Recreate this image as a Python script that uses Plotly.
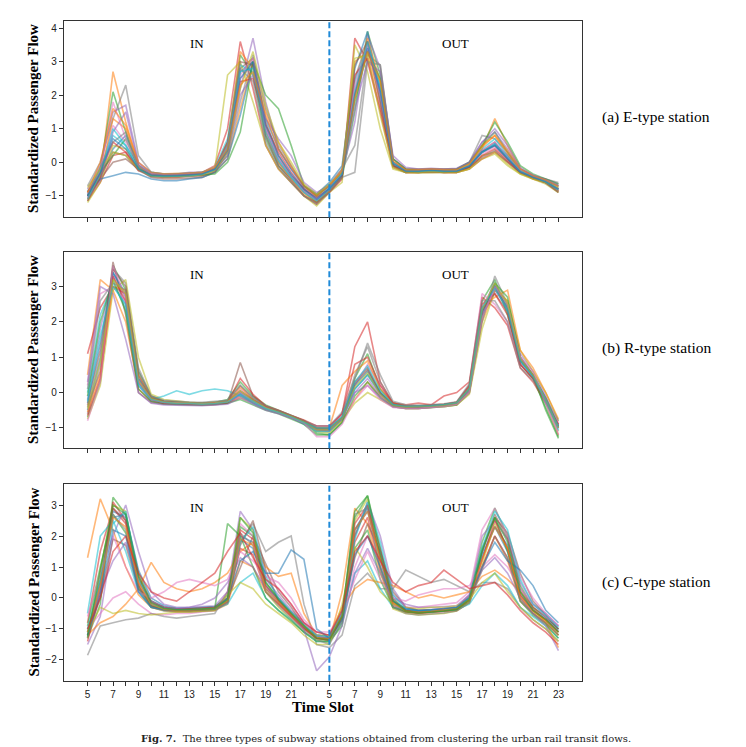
import plotly.graph_objects as go

# ---------------- data ----------------
SLOTS = list(range(38))  # 19 IN slots (5..23) followed by 19 OUT slots (5..23)
TICK_TEXT = ["5", "", "7", "", "9", "", "11", "", "13", "", "15", "", "17", "", "19", "", "21", "", "",
             "5", "", "7", "", "9", "", "11", "", "13", "", "15", "", "17", "", "19", "", "21", "", "23"]
PANEL_LABELS = ["(a) E-type station", "(b) R-type station", "(c) C-type station"]

E_IN = [
    [-1.0,-0.4,0.4,0.8,-0.1,-0.35,-0.4,-0.4,-0.38,-0.35,-0.2,0.5,2.7,3.0,1.0,0.1,-0.4,-0.8,-1.1],
    [-1.1,-0.5,2.7,1.2,-0.1,-0.4,-0.45,-0.45,-0.4,-0.4,-0.3,0.1,1.6,3.0,1.5,0.6,-0.1,-0.75,-1.0],
    [-0.9,-0.2,2.1,0.9,-0.2,-0.4,-0.4,-0.38,-0.35,-0.33,-0.2,0.6,3.2,2.6,0.7,-0.1,-0.5,-0.9,-1.2],
    [-1.15,-0.6,0.2,0.3,-0.25,-0.35,-0.38,-0.36,-0.33,-0.3,-0.1,1.0,3.6,2.2,0.5,-0.2,-0.6,-1.0,-1.25],
    [-0.8,-0.1,1.5,1.7,0.0,-0.3,-0.35,-0.35,-0.3,-0.3,-0.25,0.2,2.2,3.7,1.8,0.4,-0.2,-0.75,-1.0],
    [-1.0,-0.5,0.0,0.1,-0.2,-0.45,-0.5,-0.5,-0.48,-0.45,-0.3,0.3,2.8,3.1,1.2,0.2,-0.4,-0.85,-1.15],
    [-1.05,-0.3,1.1,0.6,-0.15,-0.35,-0.38,-0.38,-0.36,-0.35,-0.22,0.4,2.5,2.9,1.0,0.0,-0.5,-0.9,-1.1],
    [-0.7,0.0,1.3,2.3,0.2,-0.3,-0.35,-0.35,-0.32,-0.3,-0.2,0.2,1.8,3.2,1.6,0.5,-0.1,-0.7,-0.95],
    [-1.2,-0.6,0.5,0.4,-0.2,-0.35,-0.4,-0.4,-0.38,-0.35,-0.2,2.6,3.0,1.8,0.5,-0.2,-0.6,-1.0,-1.3],
    [-0.95,-0.2,0.8,0.5,-0.1,-0.3,-0.35,-0.35,-0.33,-0.3,-0.15,0.7,2.9,2.7,0.8,0.0,-0.45,-0.85,-1.05],
    [-0.85,-0.5,-0.4,-0.3,-0.35,-0.5,-0.55,-0.55,-0.5,-0.45,-0.3,0.1,1.4,3.0,1.3,0.4,-0.2,-0.7,-0.95],
    [-1.1,-0.4,1.3,1.0,-0.1,-0.38,-0.4,-0.4,-0.37,-0.34,-0.18,0.5,3.3,2.8,0.9,0.0,-0.5,-0.95,-1.2],
    [-1.0,-0.3,0.2,0.7,-0.15,-0.4,-0.42,-0.42,-0.4,-0.38,-0.35,0.0,0.9,3.0,2.0,1.6,0.5,-0.7,-1.0],
    [-0.9,-0.35,0.6,0.3,-0.2,-0.38,-0.4,-0.4,-0.38,-0.36,-0.2,0.6,2.4,2.5,1.1,0.3,-0.3,-0.8,-1.05],
    [-1.05,-0.55,0.9,1.5,-0.05,-0.32,-0.36,-0.36,-0.34,-0.32,-0.18,0.3,2.0,2.6,1.3,0.7,0.2,-0.6,-0.9],
    [-1.15,-0.45,0.3,0.2,-0.25,-0.42,-0.45,-0.45,-0.42,-0.4,-0.25,0.4,3.0,2.9,0.8,-0.1,-0.55,-1.0,-1.2],
    [-0.95,-0.25,1.8,0.7,-0.1,-0.35,-0.38,-0.38,-0.35,-0.33,-0.2,0.5,2.6,3.1,1.0,0.1,-0.4,-0.85,-1.1],
    [-1.0,-0.15,0.6,0.9,-0.1,-0.36,-0.38,-0.38,-0.36,-0.33,-0.2,0.55,2.8,2.4,0.6,-0.15,-0.6,-1.0,-1.25],
    [-0.75,-0.2,0.3,0.2,-0.2,-0.4,-0.42,-0.42,-0.4,-0.37,-0.25,0.3,2.2,3.3,1.7,0.6,0.0,-0.65,-0.95],
    [-1.1,-0.35,1.0,0.5,-0.2,-0.4,-0.42,-0.42,-0.4,-0.36,-0.22,0.45,2.7,2.8,0.9,0.05,-0.45,-0.9,-1.15],
    [-1.0,-0.3,0.7,0.4,-0.2,-0.38,-0.4,-0.4,-0.37,-0.34,-0.2,0.35,2.5,3.0,1.1,0.2,-0.35,-0.8,-1.1],
    [-0.9,0.0,1.6,1.1,0.0,-0.3,-0.34,-0.34,-0.32,-0.3,-0.15,0.4,2.3,2.7,1.4,0.4,-0.15,-0.7,-1.0],
]
E_OUT = [
    [-0.8,-0.4,2.0,3.5,2.2,0.0,-0.25,-0.28,-0.25,-0.28,-0.28,-0.1,0.3,0.5,0.1,-0.3,-0.45,-0.6,-0.8],
    [-0.7,-0.2,3.0,3.3,1.8,-0.1,-0.3,-0.3,-0.28,-0.3,-0.3,-0.15,0.4,1.3,0.5,-0.2,-0.4,-0.55,-0.7],
    [-0.85,-0.45,1.5,3.9,2.6,0.0,-0.22,-0.25,-0.2,-0.25,-0.22,-0.05,0.5,0.9,0.3,-0.25,-0.42,-0.55,-0.8],
    [-0.9,-0.5,3.7,3.0,1.5,-0.15,-0.3,-0.3,-0.25,-0.3,-0.3,-0.2,0.1,0.3,0.0,-0.3,-0.5,-0.6,-0.85],
    [-0.7,-0.3,1.2,3.8,2.8,0.1,-0.2,-0.2,-0.2,-0.22,-0.2,0.0,0.6,1.0,0.5,-0.15,-0.4,-0.5,-0.65],
    [-0.8,-0.35,2.5,3.6,2.0,-0.05,-0.28,-0.3,-0.28,-0.3,-0.28,-0.1,0.35,0.6,0.1,-0.3,-0.45,-0.6,-0.9],
    [-0.75,-0.35,2.2,3.4,2.1,-0.05,-0.25,-0.25,-0.22,-0.25,-0.25,-0.1,0.25,0.45,0.1,-0.28,-0.45,-0.58,-0.78],
    [-0.65,-0.2,0.5,3.2,2.9,0.1,-0.2,-0.22,-0.2,-0.2,-0.2,0.0,0.8,0.7,0.3,-0.2,-0.4,-0.5,-0.6],
    [-0.9,-0.6,3.5,2.7,1.0,-0.2,-0.3,-0.32,-0.3,-0.3,-0.3,-0.2,0.2,0.3,-0.05,-0.35,-0.5,-0.65,-0.9],
    [-0.75,-0.3,2.4,3.5,2.3,0.0,-0.25,-0.25,-0.23,-0.25,-0.25,-0.1,0.4,0.7,0.2,-0.25,-0.42,-0.55,-0.75],
    [-0.6,-0.1,2.8,3.9,1.9,-0.1,-0.3,-0.28,-0.25,-0.28,-0.28,-0.12,0.3,0.55,0.2,-0.28,-0.45,-0.55,-0.7],
    [-0.85,-0.4,2.0,3.7,2.4,0.0,-0.25,-0.27,-0.24,-0.27,-0.26,-0.08,0.45,0.8,0.25,-0.28,-0.45,-0.6,-0.85],
    [-0.7,-0.3,1.8,3.3,2.5,0.1,-0.2,-0.22,-0.2,-0.22,-0.2,0.0,0.5,1.2,0.6,-0.1,-0.35,-0.5,-0.65],
    [-0.8,-0.4,2.6,3.1,1.6,-0.1,-0.28,-0.28,-0.25,-0.28,-0.28,-0.15,0.2,0.4,0.05,-0.3,-0.45,-0.6,-0.8],
    [-0.7,-0.25,1.6,3.0,2.7,0.2,-0.15,-0.2,-0.18,-0.2,-0.18,0.0,0.6,0.9,0.4,-0.2,-0.38,-0.52,-0.7],
    [-0.9,-0.45,2.9,3.6,1.7,-0.1,-0.3,-0.3,-0.28,-0.3,-0.3,-0.15,0.15,0.35,0.0,-0.32,-0.48,-0.62,-0.9],
    [-0.8,-0.35,2.3,3.5,2.0,0.0,-0.25,-0.25,-0.22,-0.25,-0.25,-0.1,0.35,0.6,0.15,-0.27,-0.43,-0.57,-0.8],
    [-0.85,-0.45,-0.3,3.0,2.9,0.0,-0.25,-0.28,-0.25,-0.27,-0.27,-0.1,0.3,0.5,0.1,-0.3,-0.45,-0.6,-0.85],
    [-0.65,-0.3,3.1,3.2,1.4,-0.15,-0.3,-0.3,-0.27,-0.3,-0.3,-0.2,0.1,0.25,-0.1,-0.35,-0.5,-0.6,-0.75],
    [-0.8,-0.35,2.1,3.6,2.2,-0.02,-0.26,-0.27,-0.24,-0.27,-0.26,-0.1,0.3,0.55,0.15,-0.28,-0.44,-0.58,-0.82],
    [-0.78,-0.38,2.0,3.4,2.1,-0.05,-0.26,-0.26,-0.23,-0.26,-0.26,-0.12,0.32,0.5,0.12,-0.28,-0.44,-0.58,-0.8],
    [-0.7,-0.25,1.9,3.3,2.4,0.05,-0.22,-0.22,-0.2,-0.22,-0.22,-0.05,0.5,0.8,0.35,-0.2,-0.4,-0.53,-0.72],
]

R_IN = [
    [-0.5,1.0,3.4,2.7,0.4,-0.15,-0.25,-0.28,-0.3,-0.32,-0.3,-0.25,-0.05,-0.25,-0.42,-0.55,-0.68,-0.82,-1.0],
    [0.5,3.2,2.9,2.0,0.1,-0.25,-0.3,-0.32,-0.33,-0.35,-0.33,-0.3,-0.15,-0.3,-0.45,-0.58,-0.7,-0.85,-1.05],
    [-0.7,0.3,3.6,2.9,0.6,-0.1,-0.25,-0.28,-0.3,-0.3,-0.28,-0.2,0.3,-0.1,-0.35,-0.5,-0.65,-0.8,-1.15],
    [1.1,2.4,3.0,2.8,0.3,-0.2,-0.3,-0.3,-0.32,-0.33,-0.3,-0.28,-0.1,-0.28,-0.45,-0.55,-0.7,-0.85,-1.0],
    [-0.2,1.8,3.3,2.5,0.2,-0.25,-0.3,-0.32,-0.33,-0.34,-0.32,-0.3,-0.05,-0.3,-0.48,-0.58,-0.72,-0.88,-1.1],
    [-0.4,0.6,3.7,2.2,0.0,-0.28,-0.33,-0.35,-0.35,-0.36,-0.35,-0.3,0.85,-0.1,-0.4,-0.55,-0.68,-0.85,-1.05],
    [0.2,2.8,3.0,2.6,0.4,-0.2,-0.28,-0.3,-0.3,-0.32,-0.3,-0.25,0.1,-0.2,-0.42,-0.55,-0.68,-0.82,-0.95],
    [-0.6,0.8,3.5,3.1,0.7,-0.1,-0.25,-0.27,-0.28,-0.3,-0.28,-0.22,0.2,-0.15,-0.38,-0.52,-0.66,-0.8,-1.0],
    [-0.75,0.2,2.9,3.2,1.0,-0.05,-0.2,-0.25,-0.28,-0.3,-0.28,-0.25,0.0,-0.25,-0.45,-0.55,-0.7,-0.85,-1.1],
    [0.0,2.2,3.1,2.4,0.2,-0.2,-0.1,0.05,-0.05,0.05,0.1,0.05,-0.1,-0.3,-0.45,-0.58,-0.7,-0.9,-1.1],
    [-0.3,1.4,3.4,2.8,0.4,-0.18,-0.27,-0.3,-0.3,-0.32,-0.3,-0.26,0.0,-0.22,-0.43,-0.55,-0.68,-0.83,-1.05],
    [-0.55,0.5,3.0,2.9,0.5,-0.15,-0.26,-0.3,-0.31,-0.33,-0.3,-0.27,0.15,-0.2,-0.4,-0.52,-0.66,-0.8,-1.0],
    [-0.1,2.0,3.2,2.3,0.1,-0.25,-0.32,-0.33,-0.34,-0.35,-0.33,-0.3,-0.2,-0.35,-0.5,-0.6,-0.75,-0.9,-1.2],
    [-0.65,0.4,3.3,2.6,0.3,-0.2,-0.3,-0.32,-0.32,-0.33,-0.31,-0.28,0.4,-0.05,-0.38,-0.5,-0.65,-0.78,-0.95],
    [0.3,3.0,2.8,1.5,0.0,-0.3,-0.35,-0.36,-0.36,-0.37,-0.35,-0.33,-0.15,-0.33,-0.5,-0.6,-0.72,-0.88,-1.05],
    [-0.35,1.2,3.5,3.0,0.5,-0.15,-0.25,-0.28,-0.3,-0.31,-0.3,-0.25,0.05,-0.2,-0.42,-0.54,-0.67,-0.82,-1.02],
    [-0.8,0.3,3.6,2.7,0.3,-0.2,-0.28,-0.3,-0.31,-0.32,-0.3,-0.27,0.0,-0.25,-0.44,-0.56,-0.7,-0.86,-1.25],
    [0.1,2.6,3.1,2.9,0.6,-0.1,-0.22,-0.25,-0.27,-0.28,-0.26,-0.22,0.2,-0.15,-0.38,-0.5,-0.64,-0.8,-0.95],
    [-0.45,0.9,3.2,2.8,0.35,-0.18,-0.27,-0.3,-0.3,-0.32,-0.3,-0.26,0.05,-0.22,-0.43,-0.55,-0.68,-0.84,-1.05],
    [-0.25,1.6,3.0,2.5,0.25,-0.2,-0.28,-0.31,-0.31,-0.33,-0.31,-0.27,-0.05,-0.25,-0.45,-0.56,-0.69,-0.85,-1.0],
]
R_OUT = [
    [-1.05,-0.75,0.1,0.5,-0.05,-0.35,-0.42,-0.42,-0.4,-0.36,-0.3,0.1,2.3,3.0,2.4,0.9,0.5,-0.15,-0.95],
    [-1.1,-0.8,-0.2,0.3,-0.1,-0.38,-0.45,-0.45,-0.42,-0.4,-0.35,0.0,2.0,2.9,2.6,1.0,0.45,-0.3,-1.2],
    [-1.2,-0.85,0.4,1.1,0.1,-0.3,-0.38,-0.4,-0.38,-0.35,-0.28,0.2,2.6,3.2,2.2,0.8,0.4,-0.4,-1.25],
    [-1.0,-0.6,1.3,2.0,0.3,-0.3,-0.35,-0.3,-0.35,-0.1,0.0,0.3,2.7,2.4,1.9,0.7,0.3,-0.3,-0.9],
    [-1.1,-0.7,0.0,0.4,-0.1,-0.38,-0.42,-0.43,-0.4,-0.38,-0.32,0.05,2.4,3.1,2.5,1.1,0.6,-0.1,-1.0],
    [-1.05,-0.75,0.3,0.7,0.0,-0.35,-0.4,-0.4,-0.38,-0.35,-0.3,0.15,2.2,2.8,2.3,0.8,0.4,-0.25,-1.0],
    [-0.95,-0.6,0.2,0.8,0.2,-0.3,-0.4,-0.4,-0.38,-0.35,-0.28,0.2,2.8,2.5,2.0,0.8,0.45,-0.2,-0.85],
    [-1.0,-0.7,0.5,1.3,0.3,-0.3,-0.38,-0.4,-0.38,-0.35,-0.3,0.05,2.0,3.3,2.5,1.0,0.5,-0.2,-1.1],
    [-1.15,-0.8,-0.3,0.0,-0.2,-0.4,-0.45,-0.45,-0.42,-0.4,-0.35,-0.05,1.8,2.9,2.6,1.2,0.6,0.0,-0.8],
    [-1.1,-0.75,0.1,0.5,0.0,-0.35,-0.4,-0.4,-0.38,-0.35,-0.3,0.1,2.3,3.0,2.3,0.9,0.45,-0.3,-1.05],
    [-1.05,-0.72,0.2,0.6,-0.02,-0.35,-0.41,-0.41,-0.39,-0.36,-0.3,0.1,2.25,3.05,2.45,0.95,0.5,-0.18,-0.98],
    [-1.0,0.2,0.6,0.9,0.1,-0.3,-0.38,-0.38,-0.36,-0.33,-0.28,0.15,2.4,2.7,2.9,1.2,0.7,0.0,-0.75],
    [-1.2,-0.85,-0.1,0.3,-0.15,-0.4,-0.45,-0.45,-0.43,-0.4,-0.35,0.0,2.1,3.1,2.7,1.0,0.5,-0.5,-1.3],
    [-0.95,-0.6,0.8,1.0,0.2,-0.3,-0.38,-0.38,-0.36,-0.33,-0.28,0.2,2.5,2.8,2.2,0.8,0.4,-0.25,-0.9],
    [-1.05,-0.75,0.0,0.2,-0.15,-0.4,-0.45,-0.45,-0.42,-0.38,-0.32,0.05,2.2,2.9,2.4,1.0,0.5,-0.2,-1.0],
    [-1.02,-0.7,0.25,0.65,0.0,-0.34,-0.4,-0.4,-0.38,-0.35,-0.3,0.1,2.3,3.0,2.35,0.9,0.48,-0.2,-0.95],
    [-1.25,-0.9,-0.2,0.2,-0.2,-0.42,-0.45,-0.45,-0.42,-0.4,-0.34,0.0,2.1,3.0,2.5,1.0,0.6,-0.3,-1.2],
    [-0.95,-0.55,0.4,1.4,0.5,-0.25,-0.35,-0.36,-0.34,-0.32,-0.26,0.25,2.6,2.6,2.0,0.7,0.35,-0.15,-0.8],
    [-1.05,-0.72,0.15,0.55,-0.05,-0.36,-0.41,-0.41,-0.39,-0.36,-0.3,0.1,2.35,3.1,2.5,0.95,0.5,-0.2,-1.0],
    [-1.0,-0.68,0.3,0.75,0.05,-0.33,-0.39,-0.39,-0.37,-0.34,-0.29,0.12,2.4,2.95,2.35,0.9,0.45,-0.22,-0.95],
]

C_IN = [
    [-1.1,0.5,2.8,2.6,0.6,-0.2,-0.35,-0.4,-0.4,-0.38,-0.35,-0.1,1.9,1.6,0.3,-0.15,-0.55,-0.95,-1.25],
    [1.3,3.2,2.2,1.0,0.1,-0.3,-0.4,-0.45,-0.45,-0.42,-0.4,-0.2,1.2,1.0,0.2,-0.2,-0.6,-1.0,-1.3],
    [-1.3,-0.2,3.25,2.7,0.8,-0.1,-0.3,-0.35,-0.35,-0.33,-0.3,0.1,2.3,2.0,0.5,0.0,-0.45,-0.85,-1.2],
    [-0.8,1.5,2.9,2.4,0.4,-0.25,-0.38,-0.42,-0.42,-0.4,-0.38,-0.15,1.6,1.4,0.2,-0.2,-0.6,-1.0,-1.3],
    [-1.5,-0.6,2.0,3.0,1.5,0.2,-0.2,-0.3,-0.3,-0.28,-0.25,0.2,2.8,2.2,0.6,0.1,-0.4,-0.8,-1.1],
    [-1.2,0.0,1.9,1.7,0.3,-0.1,-0.3,-0.4,-0.38,-0.36,-0.35,-0.05,1.0,2.0,1.1,0.2,-0.3,-0.9,-1.3],
    [-1.0,-0.5,0.0,0.2,-0.2,-0.5,-0.55,-0.5,-0.5,-0.45,-0.4,0.2,2.4,2.0,0.8,0.3,-0.2,-0.8,-1.2],
    [-1.85,-0.9,-0.8,-0.7,-0.65,-0.5,-0.6,-0.65,-0.6,-0.55,-0.5,0.2,1.8,2.4,1.5,1.8,2.0,-0.2,-1.5],
    [-1.3,0.8,3.0,2.8,0.5,-0.3,-0.4,-0.42,-0.42,-0.4,-0.38,-0.1,2.6,2.2,0.2,-0.3,-0.7,-1.1,-1.35],
    [-0.5,2.0,2.5,1.5,0.2,-0.3,-0.38,-0.4,-0.4,-0.38,-0.36,-0.2,0.5,0.8,0.0,-0.4,-0.7,-1.1,-1.4],
    [-1.1,0.3,2.6,2.7,0.9,0.0,-0.25,-0.33,-0.33,-0.3,-0.28,0.0,2.0,1.8,0.4,-0.05,-0.5,-0.9,-1.25],
    [-1.2,-0.8,-0.6,-0.2,0.3,1.15,0.5,0.3,0.2,0.3,0.5,0.8,1.5,1.8,1.0,0.7,0.8,-0.5,-1.2],
    [-0.9,1.0,2.7,2.1,0.3,-0.25,-0.35,-0.38,-0.38,-0.36,-0.33,2.4,2.0,1.0,0.0,-0.4,-0.75,-1.1,-1.4],
    [-1.4,0.2,3.1,2.5,0.7,-0.15,-0.3,-0.35,-0.35,-0.33,-0.3,0.0,2.2,1.9,0.4,-0.1,-0.55,-0.95,-1.3],
    [-1.0,0.2,1.2,1.8,0.5,-0.1,-0.3,-0.35,-0.3,-0.2,0.0,0.5,1.3,1.0,0.3,0.0,-0.5,-1.0,-2.35],
    [-1.2,0.6,2.9,2.5,0.4,-0.25,-0.38,-0.42,-0.42,-0.4,-0.37,-0.12,1.7,2.5,0.9,-0.1,-0.5,-0.95,-1.3],
    [-0.6,0.8,2.0,1.0,0.2,0.0,0.2,0.5,0.6,0.5,0.4,0.6,1.5,1.2,0.7,0.5,0.0,-0.7,-1.1],
    [-1.3,0.4,2.7,2.2,0.3,-0.3,-0.42,-0.45,-0.45,-0.43,-0.4,-0.15,2.1,1.7,0.2,-0.25,-0.65,-1.05,-1.35],
    [-1.1,-0.3,-0.5,-0.4,-0.5,-0.55,-0.5,-0.45,-0.45,-0.42,-0.4,0.1,0.5,0.3,-0.2,-0.5,-0.8,-1.2,-1.5],
    [-1.0,0.6,2.4,2.8,0.6,-0.2,-0.35,-0.38,-0.38,-0.36,-0.34,-0.05,1.8,2.3,0.7,0.0,-0.45,-0.9,-1.2],
    [-1.2,0.1,2.2,2.0,0.2,-0.3,-0.38,-0.4,-0.4,-0.38,-0.36,0.0,1.2,1.5,0.8,0.8,1.55,1.25,-1.0],
    [-1.1,0.4,2.6,2.3,0.5,-0.2,-0.36,-0.4,-0.4,-0.38,-0.35,-0.08,1.9,1.7,0.3,-0.12,-0.52,-0.92,-1.28],
    [-1.25,0.9,3.0,2.7,0.7,-0.15,-0.33,-0.38,-0.38,-0.36,-0.33,-0.05,2.6,2.1,0.5,-0.05,-0.5,-0.9,-1.3],
    [-1.0,0.0,1.5,2.0,0.8,0.2,0.0,-0.1,0.2,0.5,0.8,1.5,2.1,1.3,0.6,0.3,-0.2,-0.8,-1.1],
]
C_OUT = [
    [-1.3,-0.6,2.2,2.9,1.2,-0.2,-0.42,-0.45,-0.42,-0.4,-0.35,-0.05,1.3,2.3,1.5,0.1,-0.4,-0.7,-1.1],
    [-1.4,0.2,2.9,2.4,0.8,-0.3,-0.45,-0.5,-0.45,-0.42,-0.4,-0.1,1.0,2.0,1.2,-0.1,-0.5,-0.8,-1.2],
    [-1.25,-0.5,2.6,3.3,1.6,0.0,-0.4,-0.45,-0.42,-0.4,-0.33,0.0,1.8,2.9,2.0,0.4,-0.3,-0.6,-1.0],
    [-1.35,-0.7,1.8,2.6,1.0,-0.25,-0.45,-0.5,-0.47,-0.45,-0.4,-0.15,1.0,2.0,1.3,0.0,-0.5,-0.8,-1.2],
    [-1.2,-0.4,2.0,3.1,2.0,0.3,-0.3,-0.4,-0.38,-0.35,-0.3,0.1,2.0,2.5,1.9,0.5,-0.2,-0.5,-0.9],
    [-1.3,-0.55,1.3,2.4,1.5,0.2,-0.3,-0.4,-0.38,-0.35,-0.3,0.05,1.5,2.6,2.1,0.8,-0.1,-0.55,-1.0],
    [-1.3,-0.6,1.0,2.0,1.2,0.1,-0.3,-0.3,-0.25,-0.2,-0.15,0.2,2.2,2.9,2.0,0.7,0.0,-0.5,-0.9],
    [-1.6,-1.2,0.4,0.8,0.3,0.3,0.9,0.7,0.5,0.6,0.4,0.2,0.5,0.5,0.3,-0.3,-0.7,-1.0,-1.4],
    [-1.45,-0.8,2.5,3.2,1.0,-0.35,-0.5,-0.55,-0.52,-0.5,-0.42,-0.15,1.1,2.4,1.6,0.0,-0.45,-0.75,-1.2],
    [-1.4,-0.8,0.8,1.2,0.3,-0.3,-0.4,-0.45,-0.45,-0.4,-0.38,-0.2,0.4,0.8,0.4,-0.3,-0.6,-0.9,-1.3],
    [-1.3,-0.55,2.2,2.8,1.4,-0.1,-0.38,-0.42,-0.4,-0.38,-0.33,-0.05,1.4,2.3,1.7,0.2,-0.35,-0.65,-1.05],
    [-1.2,-0.3,0.3,0.6,0.5,0.4,0.2,0.0,0.1,0.0,0.1,0.2,0.7,0.9,0.6,0.2,-0.3,-0.8,-1.6],
    [-1.4,-0.9,1.6,2.2,0.6,-0.3,-0.45,-0.48,-0.45,-0.43,-0.38,-0.1,1.6,2.6,1.5,-0.1,-0.55,-0.85,-1.3],
    [-1.35,-0.65,2.4,3.0,1.3,-0.15,-0.4,-0.45,-0.43,-0.4,-0.35,-0.05,1.2,2.5,1.6,0.1,-0.4,-0.7,-1.1],
    [-1.9,-0.9,0.8,1.6,0.8,0.0,-0.2,-0.3,-0.3,-0.28,-0.25,0.1,0.9,1.3,0.8,0.0,-0.5,-0.9,-1.7],
    [-1.35,-0.6,2.0,3.0,1.6,-0.05,-0.4,-0.45,-0.43,-0.4,-0.35,-0.05,1.5,2.7,1.9,0.3,-0.3,-0.6,-1.0],
    [-1.1,-0.5,0.6,1.5,0.6,0.0,-0.1,0.1,0.2,0.3,0.3,0.4,1.0,1.4,1.0,0.3,-0.2,-0.6,-0.9],
    [-1.5,-0.75,2.7,2.9,0.9,-0.3,-0.5,-0.55,-0.52,-0.48,-0.42,-0.15,0.9,2.0,1.3,-0.1,-0.5,-0.8,-1.2],
    [-1.5,-0.2,1.65,1.0,0.2,-0.2,-0.3,-0.35,-0.3,-0.3,-0.25,-0.05,0.5,0.8,0.2,-0.3,-0.7,-1.0,-1.4],
    [-1.25,-0.5,1.9,3.1,1.8,0.1,-0.35,-0.42,-0.4,-0.38,-0.32,0.0,1.6,2.8,2.2,0.6,-0.2,-0.55,-0.95],
    [-1.3,-0.7,1.4,2.0,1.0,-0.1,-0.35,-0.4,-0.38,-0.35,-0.3,0.0,1.0,1.8,1.2,0.9,0.4,-0.4,-0.8],
    [-1.32,-0.58,2.2,2.8,1.3,-0.15,-0.42,-0.46,-0.43,-0.4,-0.35,-0.05,1.25,2.3,1.6,0.05,-0.42,-0.72,-1.1],
    [-1.35,-0.6,2.8,3.3,1.4,-0.1,-0.42,-0.48,-0.45,-0.42,-0.36,-0.05,1.5,2.6,1.8,0.2,-0.4,-0.7,-1.1],
    [-1.2,-0.4,1.5,2.0,1.2,0.5,0.2,0.4,0.5,0.9,0.6,0.3,0.4,0.5,0.1,-0.4,-0.8,-1.1,-1.5],
]

# ---------------- style ----------------
W, H = 746, 747
COLORS = ['#1f77b4', '#ff7f0e', '#2ca02c', '#d62728', '#9467bd',
          '#8c564b', '#e377c2', '#7f7f7f', '#bcbd22', '#17becf']
XDOM = [64 / W, 582 / W]
PANELS_PX = [(20.7, 217.3), (251.7, 448.3), (484.3, 680.7)]
YRANGES = [[-1.64, 4.22], [-1.58, 3.99], [-2.67, 3.67]]
YTICKS = [[-1, 0, 1, 2, 3, 4], [-1, 0, 1, 2, 3], [-2, -1, 0, 1, 2, 3]]
AX = '#333333'
SERIF = 'Liberation Serif'
SANS = 'Liberation Sans'

fig = go.Figure()
panels = [(E_IN, E_OUT), (R_IN, R_OUT), (C_IN, C_OUT)]
for p, (lin, lout) in enumerate(panels):
    sfx = '' if p == 0 else str(p + 1)
    for i, (a, b) in enumerate(zip(lin, lout)):
        fig.add_trace(go.Scatter(
            x=SLOTS, y=a + b, mode='lines',
            line=dict(color=COLORS[i % 10], width=1.6),
            opacity=0.55, showlegend=False, hoverinfo='skip',
            xaxis='x' + sfx, yaxis='y' + sfx))

layout = dict(template='none', width=W, height=H,
              margin=dict(l=0, r=0, t=0, b=0, pad=0, autoexpand=False),
              paper_bgcolor='white', plot_bgcolor='white', showlegend=False)
annotations = []
shapes = []
for p in range(3):
    sfx = '' if p == 0 else str(p + 1)
    top, bot = PANELS_PX[p]
    ydom = [1 - bot / H, 1 - top / H]
    layout['xaxis' + sfx] = dict(
        domain=XDOM, anchor='y' + sfx, range=[-1.85, 38.85], automargin=False,
        tickmode='array', tickvals=SLOTS, ticktext=TICK_TEXT,
        showticklabels=(p == 2), ticks='outside', ticklen=4, tickwidth=1,
        tickcolor=AX, showline=True, linecolor=AX, linewidth=1.3, mirror=True,
        showgrid=False, zeroline=False,
        tickfont=dict(family=SANS, size=10, color='#222'))
    layout['yaxis' + sfx] = dict(
        domain=ydom, anchor='x' + sfx, range=YRANGES[p], automargin=False,
        tickmode='array', tickvals=YTICKS[p],
        ticks='outside', ticklen=4, tickwidth=1, tickcolor=AX,
        showline=True, linecolor=AX, linewidth=1.3, mirror=True,
        showgrid=False, zeroline=False,
        tickfont=dict(family=SANS, size=10, color='#222'))
    shapes.append(dict(type='line', xref='x' + sfx, yref='y' + sfx + ' domain',
                       x0=19, x1=19, y0=0, y1=1,
                       line=dict(color='#1f8ad8', width=2, dash='6px,3px')))
    annotations.append(dict(xref='x' + sfx, yref='y' + sfx + ' domain', x=8.6, y=0.93,
                            text='IN', showarrow=False,
                            font=dict(family=SERIF, size=13, color='black')))
    annotations.append(dict(xref='x' + sfx, yref='y' + sfx + ' domain', x=28.9, y=0.93,
                            text='OUT', showarrow=False,
                            font=dict(family=SERIF, size=13, color='black')))
    annotations.append(dict(xref='paper', yref='paper', x=33 / W, y=1 - (top + bot) / 2 / H,
                            xanchor='center', yanchor='middle',
                            text='<b>Standardized Passenger Flow</b>', textangle=-90,
                            showarrow=False,
                            font=dict(family=SERIF, size=15, color='black')))
    annotations.append(dict(xref='paper', yref='paper', x=600 / W, y=1 - [117, 348, 582][p] / H,
                            xanchor='left', yanchor='middle', text=PANEL_LABELS[p], showarrow=False,
                            font=dict(family=SERIF, size=15.5, color='black')))

annotations.append(dict(xref='paper', yref='paper', x=323 / W, y=1 - 707 / H,
                        xanchor='center', yanchor='middle',
                        text='<b>Time Slot</b>', showarrow=False,
                        font=dict(family=SERIF, size=15, color='black')))
annotations.append(dict(xref='paper', yref='paper', x=386 / W, y=1 - 738 / H,
                        xanchor='center', yanchor='middle',
                        text='<b>Fig. 7.</b>  The three types of subway stations obtained from clustering the urban rail transit flows.',
                        showarrow=False,
                        font=dict(family='DejaVu Serif', size=10, color='#222')))
layout['annotations'] = annotations
layout['shapes'] = shapes
fig.update_layout(**layout)
fig.write_html('out.html', config={'displayModeBar': False},
               post_script="document.body.style.margin='0px';document.body.style.padding='0px';document.body.style.overflow='hidden';")
